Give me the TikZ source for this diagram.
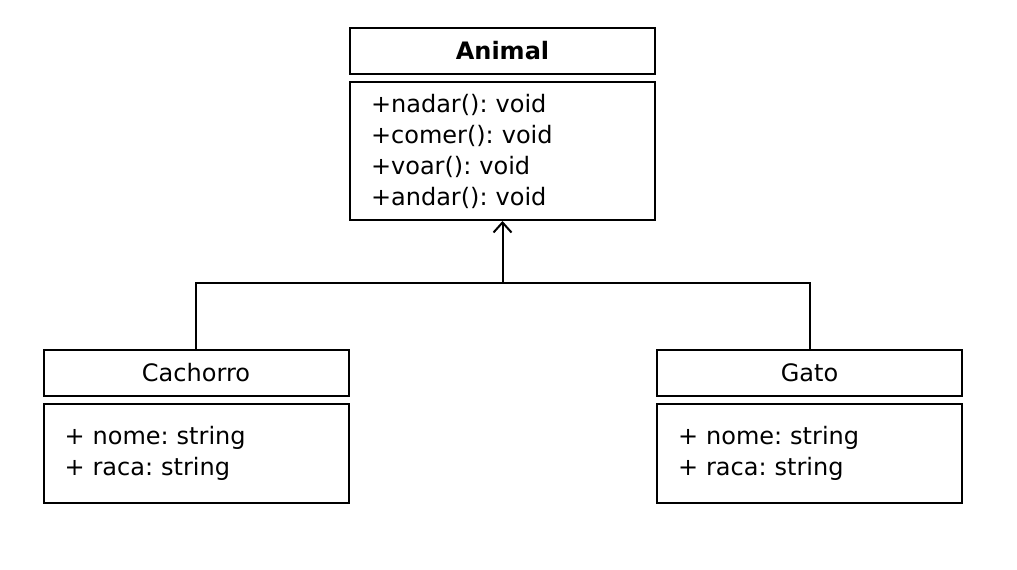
\documentclass[tikz,border=0pt]{standalone}
\usepackage{fontspec}
\setmainfont{DejaVu Sans}
\usetikzlibrary{arrows.meta}
\frenchspacing

\tikzset{
	classtitle/.style={shape=rectangle,draw=black,line width=2pt,minimum width=305pt,minimum height=46pt,inner sep=0pt,font=\fontsize{24}{31}\selectfont},
	classbody/.style={shape=rectangle,draw=black,line width=2pt,minimum width=305pt,text width=263pt,inner xsep=21pt,inner ysep=0pt,align=left,font=\fontsize{24}{31}\selectfont}
}

\begin{document}
\begin{tikzpicture}[x=1pt,y=-1pt]
	
	\useasboundingbox (0,0) rectangle (1017,570);
	
	\node[classtitle] (animal) at (502.5, 51) 	 {\textbf{Animal}};
	\node[classbody,minimum height=138pt] (animalbody) at (502.5, 151) 	 {+nadar(): void\\+comer(): void\\+voar(): void\\+andar(): void};
	
	\node[classtitle] (cachorro) at (196, 373) 	 {Cachorro};
	\node[classbody,minimum height=99pt] (cachorrobody) at (196, 453.5) 	 {+ nome: string\\+ raca: string};
	
	\node[classtitle] (gato) at (809.5, 373) 	 {Gato};
	\node[classbody,minimum height=99pt] (gatobody) at (809.5, 453.5) 	 {+ nome: string\\+ raca: string};
	
	\coordinate (joint) at (502.5, 283);
	
	\path[-, line width=2pt] (cachorro.north) edge[to path={|- (\tikztotarget)}] (joint);
	\path[-, line width=2pt] (gato.north) edge[to path={|- (\tikztotarget)}] (joint);
	\path[-{Straight Barb[length=10pt,width=18pt]}, line width=2pt] (joint) edge (animalbody.south);

\end{tikzpicture}
\end{document}
